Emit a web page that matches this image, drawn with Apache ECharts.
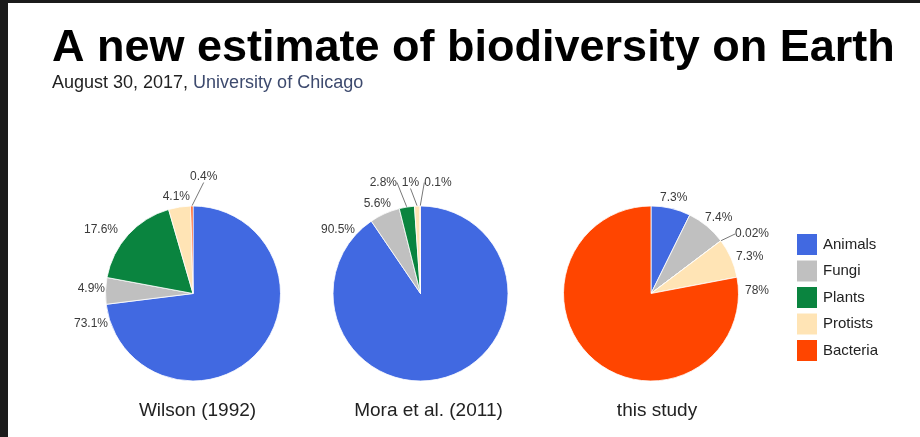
<!DOCTYPE html>
<html>
<head>
<meta charset="utf-8">
<script src="https://cdn.jsdelivr.net/npm/echarts@6/dist/echarts.min.js"></script>
<style>
  html, body { margin: 0; padding: 0; background: #1b1b1b; width: 920px; height: 437px; overflow: hidden; }
  #chart { position: absolute; left: 8px; top: 3px; width: 912px; height: 434px; background: #ffffff; }
</style>
</head>
<body>
<div id="chart"></div>
<script>
// ---- data ----
const categories = ['Animals', 'Fungi', 'Plants', 'Protists', 'Bacteria'];
const wilson1992 = [73.1, 4.9, 17.6, 4.1, 0.4];
const mora2011 = [90.5, 5.6, 2.8, 1, 0.1];
const thisStudy = [7.3, 7.4, 0.02, 7.3, 78];
const pieNames = ['Wilson (1992)', 'Mora et al. (2011)', 'this study'];

// ---- styles / layout ----
const colors = ['#4169e1', '#c0c0c0', '#0a843f', '#ffe4b5', '#ff4500'];
const FONT = '"Liberation Sans", Arial, sans-serif';
const centers = [[185, 290.5], [412.5, 290.5], [643, 290.5]];
const titleX = [184.5, 415.5, 644];
// label placement relative to each pie centre: [dx, dy, align]
const labelPlacement = [
  [[-85, 30.5, 'right'], [-88, -4.5, 'right'], [-75, -63.5, 'right'], [-3, -96.5, 'right'], [-3, -117, 'left']],
  [[-65.5, -63.5, 'right'], [-29.5, -89.5, 'right'], [-23.5, -111, 'right'], [-10, -111, 'center'], [17.5, -111, 'center']],
  [[9, -96, 'left'], [54, -76, 'left'], [84, -59.5, 'left'], [85, -37, 'left'], [94, -2.5, 'left']]
];

const chart = echarts.init(document.getElementById('chart'), null, { renderer: 'canvas' });

function buildSeries(si, name, values) {
  return {
    name: name,
    type: 'pie',
    radius: 87.5,
    center: centers[si],
    startAngle: 90,
    clockwise: true,
    avoidLabelOverlap: false,
    itemStyle: { borderColor: '#ffffff', borderWidth: 0.8 },
    label: {
      show: true,
      position: 'outside',
      formatter: p => p.value + '%',
      fontFamily: FONT,
      fontSize: 12,
      color: '#3a3a3a'
    },
    labelLine: { show: true, length: 4, length2: 0, lineStyle: { color: '#777', width: 1 } },
    labelLayout: function (params) {
      const pl = labelPlacement[si][params.dataIndex];
      return {
        x: centers[si][0] + pl[0],
        y: centers[si][1] + pl[1],
        align: pl[2],
        verticalAlign: 'middle'
      };
    },
    emphasis: { disabled: true },
    data: categories.map((c, i) => ({
      name: c,
      value: values[i],
      labelLine: { show: values[i] < 3 }
    }))
  };
}

const option = {
  animation: false,
  color: colors,
  title: [
    {
      text: 'A new estimate of biodiversity on Earth',
      left: 39, top: 18,
      textStyle: { fontFamily: FONT, fontSize: 45, fontWeight: 'bold', color: '#000000' }
    },
    {
      text: '{a|August 30, 2017, }{b|University of Chicago}',
      left: 39, top: 66,
      textStyle: {
        fontFamily: FONT, fontSize: 18, fontWeight: 'normal',
        rich: {
          a: { fontFamily: FONT, fontSize: 18, fontWeight: 'normal', color: '#222222' },
          b: { fontFamily: FONT, fontSize: 18, fontWeight: 'normal', color: '#3d4a6e' }
        }
      }
    }
  ].concat(pieNames.map((n, i) => ({
    text: n,
    left: titleX[i], top: 393,
    textAlign: 'center',
    textStyle: { fontFamily: FONT, fontSize: 19, fontWeight: 'normal', color: '#222222' }
  }))),
  legend: {
    orient: 'vertical',
    left: 782, top: 224,
    itemWidth: 22, itemHeight: 23, itemGap: 1.5,
    icon: 'rect',
    selectedMode: false,
    data: categories,
    textStyle: { fontFamily: FONT, fontSize: 15, color: '#222222' }
  },
  series: [
    buildSeries(0, pieNames[0], wilson1992),
    buildSeries(1, pieNames[1], mora2011),
    buildSeries(2, pieNames[2], thisStudy)
  ]
};
chart.setOption(option);
</script>
</body>
</html>
